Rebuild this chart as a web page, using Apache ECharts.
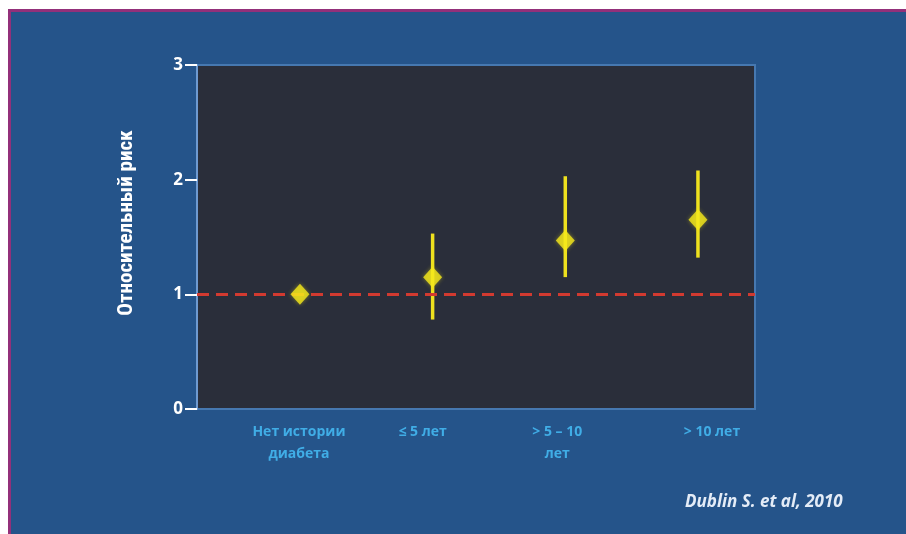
<!DOCTYPE html>
<html>
<head>
<meta charset="utf-8">
<script src="https://cdn.jsdelivr.net/npm/echarts@6/dist/echarts.min.js"></script>
<style>
  html, body { margin: 0; padding: 0; background: #ffffff; }
  #chart { width: 906px; height: 534px; }
</style>
</head>
<body>
<div id="chart"></div>
<script>
// Relative risk by diabetes duration (point estimate with confidence interval)
const categories = ['Нет истории\nдиабета', '≤ 5 лет', '> 5 – 10\nлет', '> 10 лет'];
const riskValues = [1.0, 1.15, 1.47, 1.65];
const lowerCI = [null, 0.78, 1.15, 1.32];
const upperCI = [null, 1.53, 2.03, 2.08];
const yTicks = [0, 1, 2, 3];
const referenceLevel = 1;
const sourceNote = 'Dublin S. et al, 2010';
const yTitle = 'Относительный риск';

const pointData = riskValues.map((v, i) => [i, v]);
const ciData = [];
categories.forEach((c, i) => {
  if (lowerCI[i] != null) ciData.push([i, lowerCI[i], upperCI[i]]);
});

// per-label horizontal nudges for the category captions
const labelStyles = {
  c0: { padding: [0, 2, 0, 0] },
  c1: { padding: [0, 20, 0, 0] },
  c2: { padding: [0, 16, 0, 0] },
  c3: { padding: [0, 0, 0, 28] }
};
const labelFont = { color: '#40ade6', fontSize: 14, fontWeight: 'bold', lineHeight: 22,
  fontFamily: '"Open Sans", "DejaVu Sans", sans-serif' };
Object.keys(labelStyles).forEach(k => Object.assign(labelStyles[k], labelFont));

const chart = echarts.init(document.getElementById('chart'), null, { renderer: 'canvas' });

chart.setOption({
  backgroundColor: '#25548a',
  animation: false,
  graphic: [
    { type: 'rect', shape: { x: 0, y: 0, width: 906, height: 9 }, style: { fill: '#ffffff' }, z: 100 },
    { type: 'rect', shape: { x: 0, y: 0, width: 8, height: 534 }, style: { fill: '#ffffff' }, z: 100 },
    { type: 'rect', shape: { x: 8, y: 9, width: 898, height: 3 }, style: { fill: '#93307a' }, z: 101 },
    { type: 'rect', shape: { x: 8, y: 9, width: 3, height: 525 }, style: { fill: '#93307a' }, z: 101 },
    {
      type: 'text', x: 127, y: 223, rotation: Math.PI / 2, z: 50,
      style: {
        text: yTitle, fill: '#ffffff',
        font: 'bold 21px "Liberation Sans Narrow", "Roboto Condensed", "Open Sans", sans-serif',
        align: 'center', verticalAlign: 'middle'
      }
    },
    {
      type: 'text', left: 685, top: 494, z: 50,
      style: {
        text: sourceNote, fill: '#e4ecf7',
        font: 'italic bold 17px "Open Sans", "DejaVu Sans", sans-serif'
      }
    }
  ],
  grid: {
    left: 197, right: 151, top: 65, bottom: 125,
    show: true, backgroundColor: '#2a2e3a',
    borderColor: '#4678b0', borderWidth: 2
  },
  xAxis: {
    type: 'value',
    min: -0.776, max: 3.43,
    axisLine: { show: false },
    axisTick: { show: false },
    splitLine: { show: false },
    axisLabel: {
      customValues: [0, 1, 2, 3],
      formatter: v => {
        const i = Math.round(v);
        return categories[i].split('\n').map(l => '{c' + i + '|' + l + '}').join('\n');
      },
      rich: labelStyles,
      margin: 12
    }
  },
  yAxis: {
    type: 'value',
    min: yTicks[0], max: yTicks[yTicks.length - 1], interval: 1,
    axisLine: { show: true, onZero: false, lineStyle: { color: '#6f9ad0', width: 2 } },
    axisTick: { show: true, length: 12, lineStyle: { color: '#ffffff', width: 2 } },
    splitLine: { show: false },
    axisLabel: {
      color: '#ffffff', fontSize: 17, fontWeight: 'bold', margin: 14,
      fontFamily: '"Open Sans", "DejaVu Sans", sans-serif'
    }
  },
  series: [
    {
      type: 'custom',
      data: ciData,
      z: 3,
      renderItem: function (params, api) {
        const x = api.value(0);
        const lo = api.coord([x, api.value(1)]);
        const hi = api.coord([x, api.value(2)]);
        return {
          type: 'line',
          shape: { x1: lo[0], y1: lo[1], x2: hi[0], y2: hi[1] },
          style: { stroke: '#eee11e', lineWidth: 3.5 }
        };
      },
      markLine: {
        silent: true,
        symbol: ['none', 'none'],
        label: { show: false },
        lineStyle: { color: '#d23a30', width: 3, type: [12, 7], opacity: 1 },
        data: [{ yAxis: referenceLevel }]
      }
    },
    {
      type: 'scatter',
      data: pointData,
      z: 5,
      symbol: 'diamond',
      symbolSize: [19, 21],
      itemStyle: {
        color: '#f5e81c',
        shadowColor: 'rgba(245,232,28,0.5)',
        shadowBlur: 4
      }
    }
  ]
});
</script>
</body>
</html>
